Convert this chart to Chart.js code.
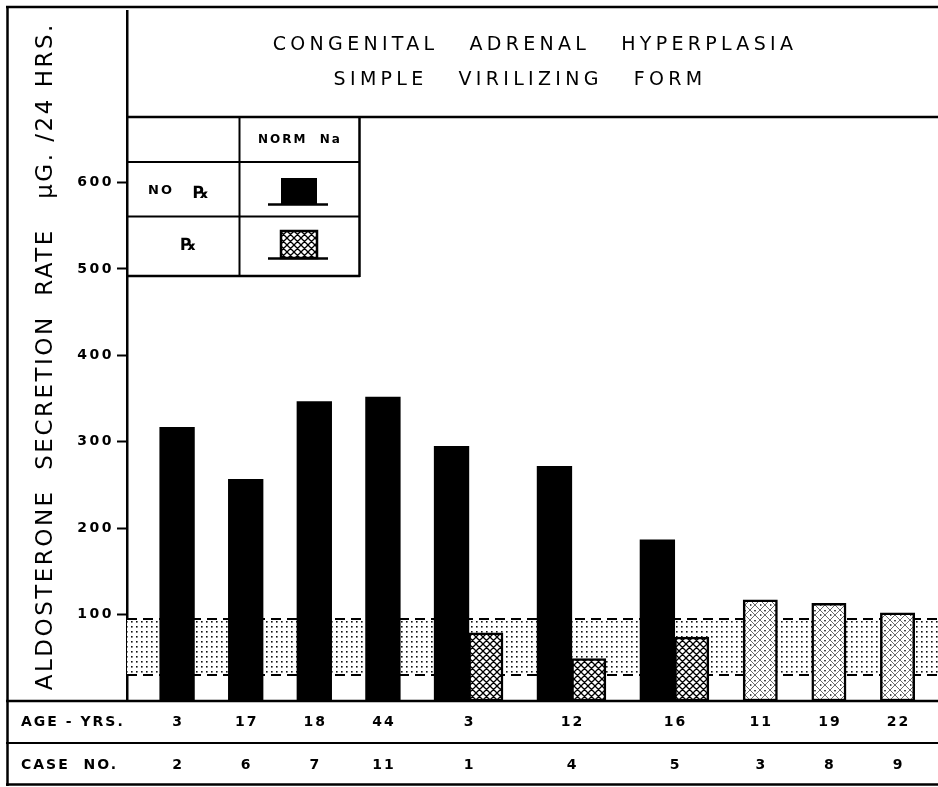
<!DOCTYPE html>
<html><head><meta charset="utf-8">
<script src="https://cdn.jsdelivr.net/npm/chart.js@4.4.1/dist/chart.umd.min.js"></script>
<style>html,body{margin:0;padding:0;background:#fff}#wrap{width:938px;height:787px;position:relative}</style>
</head><body><div id="wrap"><canvas id="c"></canvas></div>
<script>
// ---- data ----
const caseNumbers   = ['2','6','7','11','1','4','5','3','8','9'];
const agesYears     = [3, 17, 18, 44, 3, 12, 16, 11, 19, 22];
const untreatedRate = [317, 257, 347, 352, 295, 272, 187, null, null, null]; // NO Rx (normal Na)
const treatedRate   = [null, null, null, null, 79, 49, 74, 117, 113, 102];   // Rx (normal Na)
const normalRange   = [30, 95];
const yTickValues   = [100, 200, 300, 400, 500, 600];
const rowHeaders    = ['AGE - YRS.', 'CASE  NO.'];
const legendHeader  = 'NORM  Na';
const legendRows    = ['NO  ℞', '℞'];
const titleLines    = ['CONGENITAL   ADRENAL   HYPERPLASIA', 'SIMPLE   VIRILIZING   FORM'];
const yTitle        = 'ALDOSTERONE  SECRETION  RATE   μG. /24 HRS.';

// ---- build bar slots: each case takes one slot per bar, plus one empty slot between cases ----
const blackPts = [], rxPts = [], rxPaired = [], groupCenters = [];
let slot = 0;
caseNumbers.forEach((c, i) => {
  const start = slot;
  if (untreatedRate[i] != null) { blackPts.push({x: slot, y: untreatedRate[i]}); slot++; }
  if (treatedRate[i] != null) { rxPts.push({x: slot, y: treatedRate[i]}); rxPaired.push(untreatedRate[i] != null); slot++; }
  groupCenters.push((start + slot - 1) / 2);
  slot++;
});
const X_MIN = -1.46, X_MAX = 22.18;

const canvas = document.getElementById('c');
const ctx0 = canvas.getContext('2d');
function makePattern(size, draw) {
  const c = document.createElement('canvas');
  c.width = c.height = size;
  const g = c.getContext('2d');
  g.fillStyle = '#fff'; g.fillRect(0, 0, size, size);
  draw(g, size);
  return ctx0.createPattern(c, 'repeat');
}
function diag(g, s, w, col) {
  g.strokeStyle = col; g.lineWidth = w; g.beginPath();
  for (const k of [-s, 0, s]) {
    g.moveTo(k, 0); g.lineTo(k + s, s);
    g.moveTo(k + s, 0); g.lineTo(k, s);
  }
  g.stroke();
}
const crossPat = makePattern(7, (g, s) => diag(g, s, 1.3, '#000'));
const lightPat = makePattern(10, (g, s) => {
  diag(g, s, 0.8, '#444');
  g.fillStyle = '#000';
  g.fillRect(4.3, 0, 1.4, 1.4); g.fillRect(0, 4.3, 1.4, 1.4);
});
const stipple = makePattern(5, (g) => { g.fillStyle = '#111'; g.fillRect(1, 1, 1.6, 1.6); });

const bandData = v => [{x: X_MIN, y: v}, {x: X_MAX, y: v}];

const framePlugin = {
  id: 'frame',
  beforeDraw(chart) { chart.ctx.letterSpacing = '2.5px'; },
  beforeDatasetsDraw(chart) { chart.ctx.letterSpacing = '0px'; },
  afterDraw(chart) {
    const {ctx, chartArea: a, scales: {x}} = chart;
    const W = chart.width;
    ctx.save();
    ctx.strokeStyle = '#000';
    const line = (x1, y1, x2, y2, w) => { ctx.lineWidth = w; ctx.beginPath(); ctx.moveTo(x1, y1); ctx.lineTo(x2, y2); ctx.stroke(); };
    // outer frame and table rows
    line(6, 7, W, 7, 2.5);
    line(7.5, 6, 7.5, 786, 2.5);
    line(6, 784.5, W, 784.5, 2.5);
    line(6, a.bottom, W, a.bottom, 2.5);
    line(6, 743, W, 743, 2);
    // title box
    line(a.left, 117, W, 117, 2.5);
    // legend table
    line(a.left, 162, 360, 162, 2);
    line(a.left, 216.5, 360, 216.5, 2);
    line(a.left, 276, 360, 276, 2.5);
    line(239.5, 117, 239.5, 276, 2);
    line(359.5, 117, 359.5, 277, 2.5);
    // legend swatches
    ctx.fillStyle = '#000';
    ctx.fillRect(281, 178, 36, 26);
    line(268, 204.5, 328, 204.5, 2.5);
    ctx.fillStyle = crossPat;
    ctx.fillRect(281, 231, 36, 27);
    ctx.lineWidth = 2.5; ctx.strokeRect(281, 231, 36, 27);
    line(268, 258.5, 328, 258.5, 2.5);

    ctx.fillStyle = '#000';
    ctx.textBaseline = 'middle';
    // title
    ctx.font = '19px "DejaVu Sans"';
    ctx.letterSpacing = '4.3px';
    ctx.textAlign = 'center';
    ctx.fillText(titleLines[0], 535, 45);
    ctx.fillText(titleLines[1], 520, 80);
    // legend texts
    ctx.font = 'bold 12px "DejaVu Sans"';
    ctx.letterSpacing = '2px';
    ctx.fillText(legendHeader, 300, 140);
    ctx.font = 'bold 13px "DejaVu Sans"';
    ctx.textAlign = 'left';
    ctx.fillText(legendRows[0].split('℞')[0], 148, 191);
    ctx.font = 'bold 17px "DejaVu Sans"';
    ctx.letterSpacing = '0px';
    ctx.fillText('℞', 193, 194);
    ctx.textAlign = 'center';
    ctx.fillText(legendRows[1], 188, 246);
    // bottom table rows
    ctx.font = 'bold 14px "DejaVu Sans"';
    ctx.letterSpacing = '2px';
    ctx.textAlign = 'left';
    ctx.fillText(rowHeaders[0], 21, 722);
    ctx.fillText(rowHeaders[1], 21, 765);
    ctx.textAlign = 'center';
    groupCenters.forEach((g, i) => {
      const px = x.getPixelForValue(g);
      ctx.fillText(String(agesYears[i]), px + 1, 722);
      ctx.fillText(caseNumbers[i], px + 1, 765);
    });
    ctx.restore();
  }
};

new Chart(canvas, {
  type: 'bar',
  data: {
    datasets: [
      {type: 'line', label: 'Normal range (low)', data: bandData(normalRange[0]),
       borderColor: '#000', borderWidth: 2, borderDash: [10, 6], pointRadius: 0, fill: false, order: 2},
      {type: 'line', label: 'Normal range (high)', data: bandData(normalRange[1]),
       borderColor: '#000', borderWidth: 2, borderDash: [10, 6], pointRadius: 0, fill: '-1',
       backgroundColor: stipple, order: 2},
      {type: 'bar', label: 'NO ℞', data: blackPts, backgroundColor: '#000', borderWidth: 0,
       grouped: false, barPercentage: 1.03, categoryPercentage: 1, order: 0},
      {type: 'bar', label: '℞', data: rxPts, backgroundColor: rxPaired.map(p => p ? crossPat : lightPat),
       borderColor: '#000', borderWidth: 2.5, borderSkipped: false,
       grouped: false, barPercentage: 1.0, categoryPercentage: 1, order: 0}
    ]
  },
  options: {
    responsive: true, maintainAspectRatio: false, animation: false,
    layout: {padding: {left: 8, top: 8, right: 0, bottom: 86}},
    plugins: {legend: {display: false}, tooltip: {enabled: false}, title: {display: false}},
    scales: {
      x: {type: 'linear', display: false, offset: false, min: X_MIN, max: X_MAX,
          grid: {offset: false},
          afterBuildTicks: s => { s.ticks = groupCenters.map(v => ({value: v})); }},
      y: {type: 'linear', min: 0, max: 798,
          afterBuildTicks: s => { s.ticks = yTickValues.map(v => ({value: v})); },
          afterFit: s => { s.width = 119; },
          border: {display: true, color: '#000', width: 2.5},
          grid: {drawOnChartArea: false, drawTicks: true, tickLength: 10, tickWidth: 2, tickColor: '#000'},
          ticks: {color: '#000', padding: 3, font: {family: 'DejaVu Sans', size: 14, weight: 'bold'}},
          title: {display: true, text: yTitle, color: '#000',
                  font: {family: 'DejaVu Sans', size: 23}, padding: {top: 24, bottom: 0}}}
    }
  },
  plugins: [framePlugin]
});
</script>
</body></html>
